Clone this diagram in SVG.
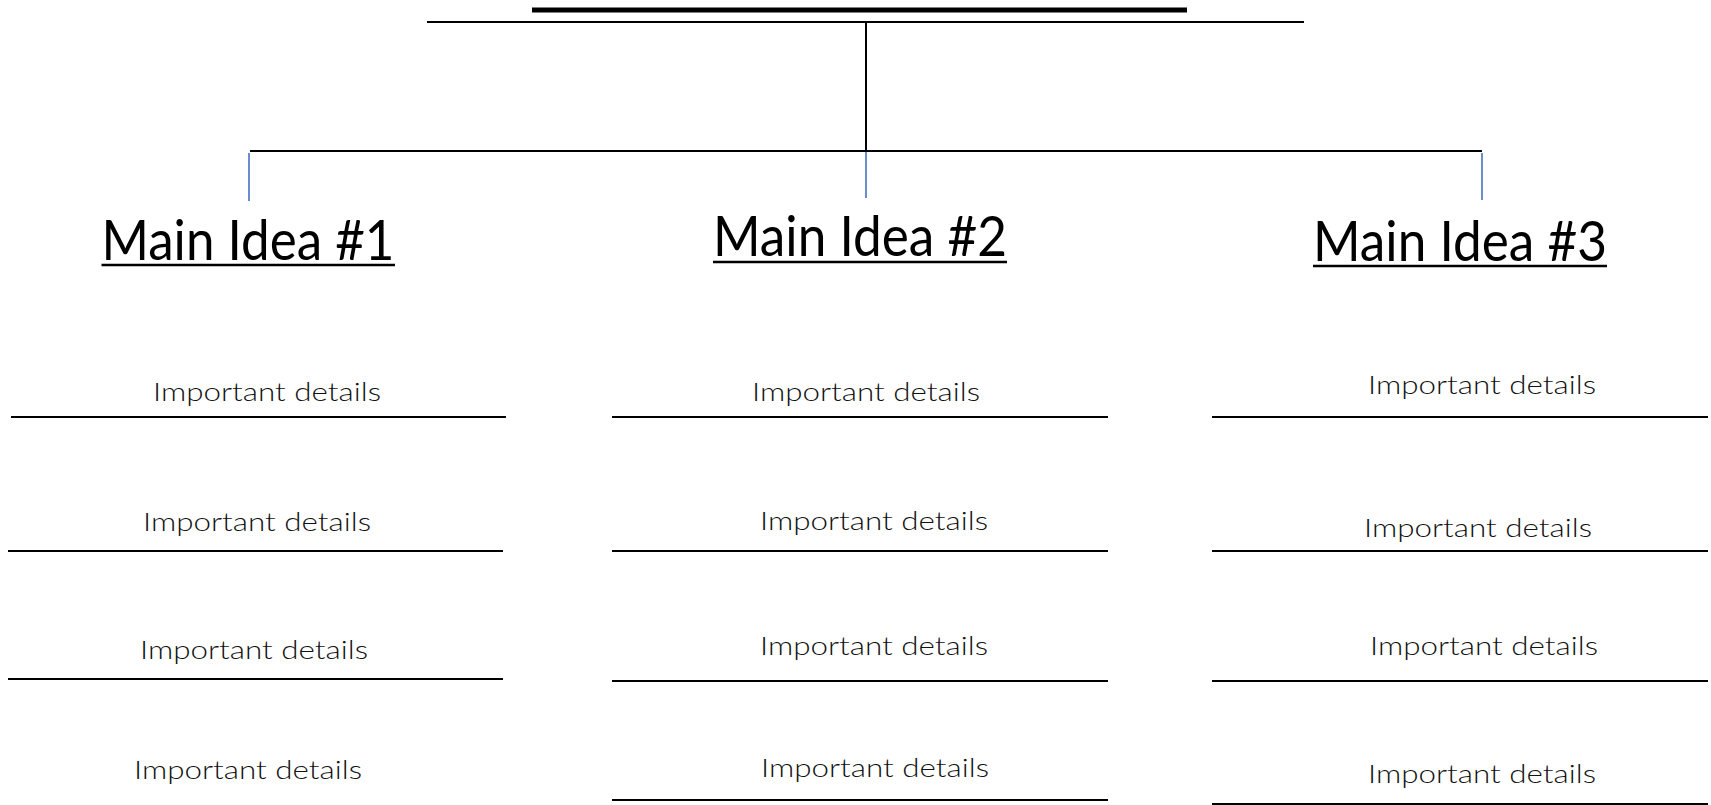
<svg xmlns="http://www.w3.org/2000/svg" width="1711" height="805" viewBox="0 0 1711 805">
<style>
.bg{fill:#ffffff}
.ln{stroke:#000;stroke-width:2;fill:none}
.tick{stroke:#4472C4;stroke-width:1.6;fill:none}
.main{font-family:"Segoe UI",Lato,"Open Sans",sans-serif;font-weight:400;font-size:56px;fill:#000}
.det{font-family:"Segoe UI",Lato,"Open Sans",sans-serif;font-weight:300;font-size:25px;fill:#111}
.ul{stroke:#000;stroke-width:2.6}
</style>
<rect class="bg" x="0" y="0" width="1711" height="805"/>
<g id="title">
<line x1="532" y1="10" x2="1187" y2="10" stroke="#000" stroke-width="5"/>
<line class="ln" x1="427" y1="22" x2="1304" y2="22"/>
</g>
<g id="connectors">
<line class="ln" x1="866" y1="22" x2="866" y2="151"/>
<line class="ln" x1="250" y1="151" x2="1482" y2="151"/>
<line class="tick" x1="249" y1="153" x2="249" y2="201"/>
<line class="tick" x1="866" y1="152" x2="866" y2="198"/>
<line class="tick" x1="1482" y1="153" x2="1482" y2="200"/>
</g>
<g id="main1">
<text class="main" x="101.5" y="260" textLength="293" lengthAdjust="spacingAndGlyphs">Main Idea #1</text>
<line class="ul" x1="101.5" y1="265" x2="395" y2="265"/>
</g>
<g id="main2">
<text class="main" x="713" y="256" textLength="294" lengthAdjust="spacingAndGlyphs">Main Idea #2</text>
<line class="ul" x1="713" y1="262" x2="1007" y2="262"/>
</g>
<g id="main3">
<text class="main" x="1313" y="261" textLength="294" lengthAdjust="spacingAndGlyphs">Main Idea #3</text>
<line class="ul" x1="1313" y1="266" x2="1607" y2="266"/>
</g>
<g id="col1">
<text class="det" x="153" y="401" textLength="228" lengthAdjust="spacingAndGlyphs">Important details</text>
<line class="ln" x1="11" y1="417" x2="506" y2="417"/>
<text class="det" x="143" y="531" textLength="228" lengthAdjust="spacingAndGlyphs">Important details</text>
<line class="ln" x1="8" y1="551" x2="503" y2="551"/>
<text class="det" x="140" y="659" textLength="228" lengthAdjust="spacingAndGlyphs">Important details</text>
<line class="ln" x1="8" y1="679" x2="503" y2="679"/>
<text class="det" x="134" y="779" textLength="228" lengthAdjust="spacingAndGlyphs">Important details</text>
</g>
<g id="col2">
<text class="det" x="752" y="401" textLength="228" lengthAdjust="spacingAndGlyphs">Important details</text>
<line class="ln" x1="612" y1="417" x2="1108" y2="417"/>
<text class="det" x="760" y="530" textLength="228" lengthAdjust="spacingAndGlyphs">Important details</text>
<line class="ln" x1="612" y1="551" x2="1108" y2="551"/>
<text class="det" x="760" y="655" textLength="228" lengthAdjust="spacingAndGlyphs">Important details</text>
<line class="ln" x1="612" y1="681" x2="1108" y2="681"/>
<text class="det" x="761" y="777" textLength="228" lengthAdjust="spacingAndGlyphs">Important details</text>
<line class="ln" x1="612" y1="800" x2="1108" y2="800"/>
</g>
<g id="col3">
<text class="det" x="1368" y="394" textLength="228" lengthAdjust="spacingAndGlyphs">Important details</text>
<line class="ln" x1="1212" y1="417" x2="1708" y2="417"/>
<text class="det" x="1364" y="537" textLength="228" lengthAdjust="spacingAndGlyphs">Important details</text>
<line class="ln" x1="1212" y1="551" x2="1708" y2="551"/>
<text class="det" x="1370" y="655" textLength="228" lengthAdjust="spacingAndGlyphs">Important details</text>
<line class="ln" x1="1212" y1="681" x2="1708" y2="681"/>
<text class="det" x="1368" y="783" textLength="228" lengthAdjust="spacingAndGlyphs">Important details</text>
<line class="ln" x1="1212" y1="804" x2="1708" y2="804"/>
</g>
</svg>
